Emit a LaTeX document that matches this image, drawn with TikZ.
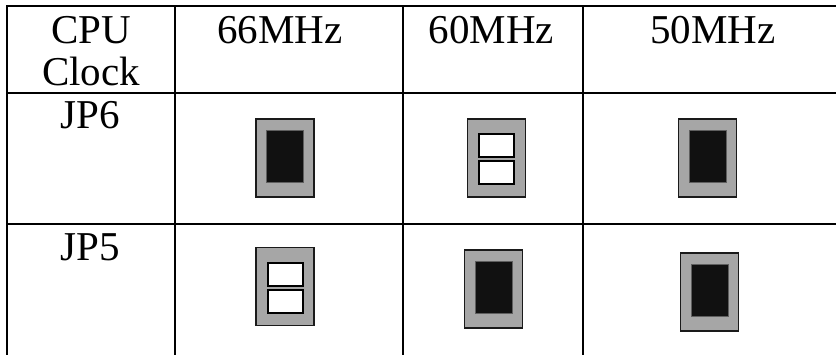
\documentclass[tikz,border=0pt]{standalone}
\usepackage{fontspec}
\setmainfont{Liberation Serif}
\usepackage{xcolor}
\usepackage{tikz}
\definecolor{rule}{HTML}{000000}
\definecolor{pinGray}{HTML}{A6A6A6}
\definecolor{capBlack}{HTML}{111111}
\definecolor{edge}{HTML}{1A1A1A}
\tikzset{
  gridLine/.style={draw=rule, line width=1.35pt, line cap=rect},
  cellLbl/.style={anchor=base, inner sep=0pt, align=center, font=\fontsize{20.5}{21}\selectfont},
  jumperBody/.style={draw=edge, fill=pinGray, line width=0.6pt, minimum width=29pt, minimum height=39pt, inner sep=0pt},
  capOn/.style={draw=edge!70, fill=capBlack, line width=0.5pt, minimum width=18.5pt, minimum height=26pt, inner sep=0pt},
  pinOpen/.style={draw=rule, fill=white, line width=1pt, minimum width=17.5pt, minimum height=11.5pt, inner sep=0pt},
}
\newcommand{\JumperShut}[2]{% closed: cap over both pins
  \node[jumperBody] (#1) at (#2) {};
  \node[capOn] (#1cap) at ([yshift=1pt]#1.center) {};
}
\newcommand{\JumperOpen}[2]{% open: two bare pins
  \node[jumperBody] (#1) at (#2) {};
  \node[pinOpen] (#1a) at ([yshift=6.25pt]#1.center) {};
  \node[pinOpen] (#1b) at ([yshift=-7.25pt]#1.center) {};
}

\begin{document}
\begin{tikzpicture}[x=0.5pt, y=-0.5pt]
  \useasboundingbox (0,0) rectangle (836,354);

  % table rules
  \draw[gridLine] (7,6) -- (836,6);
  \draw[gridLine] (7,93) -- (836,93);
  \draw[gridLine] (7,224) -- (836,224);
  \draw[gridLine] (7,6) -- (7,354);
  \draw[gridLine] (175,6) -- (175,354);
  \draw[gridLine] (403,6) -- (403,354);
  \draw[gridLine] (583,6) -- (583,354);

  % header row (base sits on the last line)
  \node[cellLbl] (hdrClock) at (91,85) {CPU\\Clock};
  \node[cellLbl] (hdrSixtySix) at (280,43) {66MHz};
  \node[cellLbl] (hdrSixty) at (491.5,43) {60MHz};
  \node[cellLbl] (hdrFifty) at (713,43) {50MHz};

  % JP6
  \node[cellLbl] (rowJPsix) at (90,128) {JP6};
  \JumperShut{jpSixA}{285,158}
  \JumperOpen{jpSixB}{496.5,158}
  \JumperShut{jpSixC}{707.5,158}

  % JP5
  \node[cellLbl] (rowJPfive) at (90,260) {JP5};
  \JumperOpen{jpFiveA}{285,286.5}
  \JumperShut{jpFiveB}{493.5,289}
  \JumperShut{jpFiveC}{709.5,292}
\end{tikzpicture}
\end{document}
